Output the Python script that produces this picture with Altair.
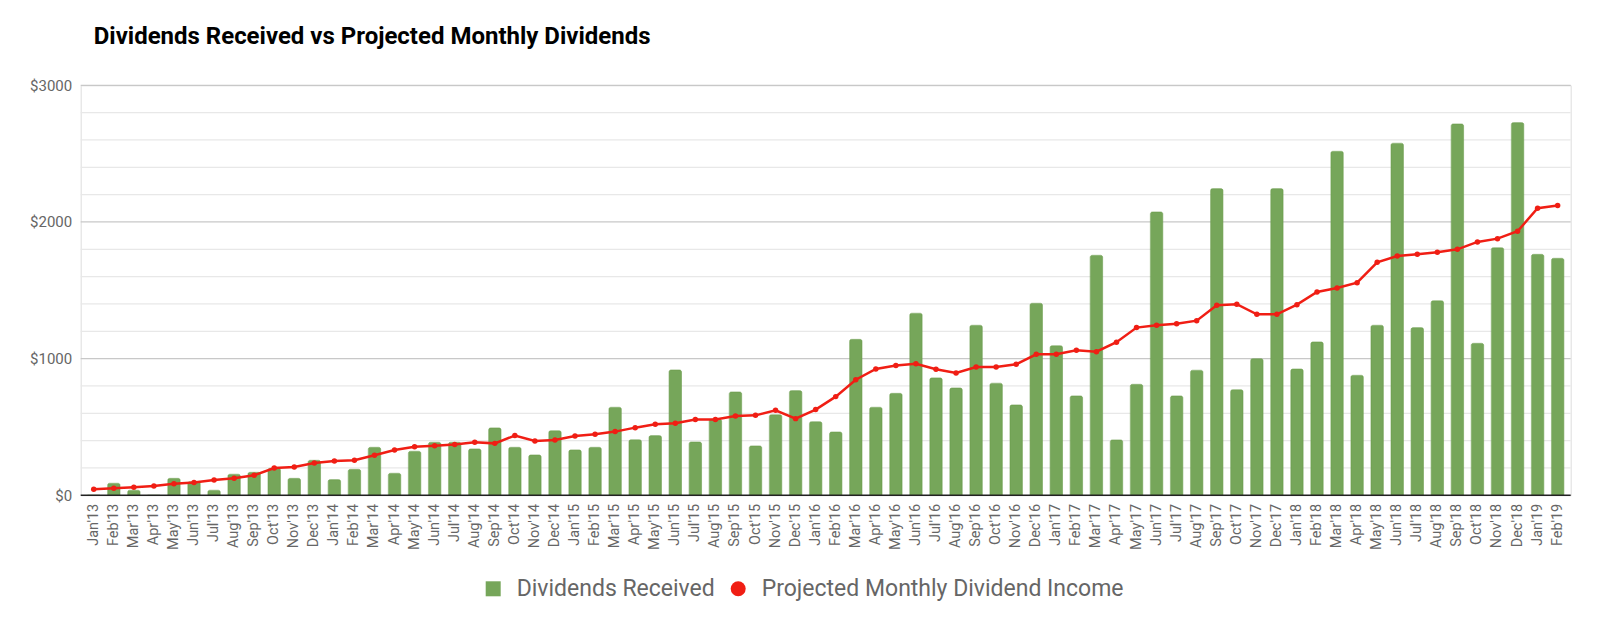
import altair as alt
import pandas as pd

months = [
    "Jan'13", "Feb'13", "Mar'13", "Apr'13", "May'13", "Jun'13", "Jul'13", "Aug'13", "Sep'13", "Oct'13", "Nov'13", "Dec'13",
    "Jan'14", "Feb'14", "Mar'14", "Apr'14", "May'14", "Jun'14", "Jul'14", "Aug'14", "Sep'14", "Oct'14", "Nov'14", "Dec'14",
    "Jan'15", "Feb'15", "Mar'15", "Apr'15", "May'15", "Jun'15", "Jul'15", "Aug'15", "Sep'15", "Oct'15", "Nov'15", "Dec'15",
    "Jan'16", "Feb'16", "Mar'16", "Apr'16", "May'16", "Jun'16", "Jul'16", "Aug'16", "Sep'16", "Oct'16", "Nov'16", "Dec'16",
    "Jan'17", "Feb'17", "Mar'17", "Apr'17", "May'17", "Jun'17", "Jul'17", "Aug'17", "Sep'17", "Oct'17", "Nov'17", "Dec'17",
    "Jan'18", "Feb'18", "Mar'18", "Apr'18", "May'18", "Jun'18", "Jul'18", "Aug'18", "Sep'18", "Oct'18", "Nov'18", "Dec'18",
    "Jan'19", "Feb'19",
]

received = [
    0, 88, 37, 0, 124, 100, 37, 154, 168, 198, 124, 256,
    115, 190, 351, 161, 322, 388, 388, 339, 493, 351, 295, 473,
    332, 351, 644, 407, 437, 917, 390, 556, 756, 361, 590, 766,
    539, 463, 1141, 644, 746, 1332, 859, 785, 1244, 820, 661, 1405,
    1095, 727, 1756, 405, 812, 2073, 727, 915, 2244, 773, 1000, 2244,
    924, 1122, 2517, 878, 1244, 2576, 1227, 1424, 2717, 1112, 1812, 2727,
    1763, 1734,
]

projected = [
    44, 51, 59, 68, 85, 93, 112, 124, 146, 200, 207, 237,
    251, 256, 293, 332, 356, 363, 371, 388, 380, 437, 398, 405,
    434, 446, 466, 495, 520, 527, 554, 554, 580, 585, 622, 561,
    627, 722, 846, 924, 949, 963, 922, 895, 939, 939, 959, 1032,
    1032, 1061, 1051, 1120, 1227, 1244, 1256, 1278, 1390, 1398, 1324, 1324,
    1395, 1488, 1517, 1556, 1705, 1751, 1763, 1778, 1800, 1854, 1878, 1932,
    2100, 2120,
]

minor_grid = [200, 400, 600, 800, 1200, 1400, 1600, 1800, 2200, 2400, 2600, 2800]
major_grid = [1000, 2000, 3000]
y_labels = [0, 1000, 2000, 3000]

series_bar = "Dividends Received"
series_line = "Projected Monthly Dividend Income"
green = "#76a65a"
red = "#f01e14"
grey_text = "#666666"

df = pd.DataFrame({
    "month": months,
    "received": received,
    "projected": projected,
    "s_bar": series_bar,
    "s_line": series_line,
})

y_scale = alt.Scale(domain=[0, 3000], nice=False)
x_scale = alt.Scale(paddingInner=0.38, paddingOuter=0.34)

x_axis = alt.Axis(
    labelAngle=270,
    labelFont="Roboto",
    labelFontSize=14.5,
    labelColor=grey_text,
    labelPadding=8,
    ticks=False,
    domain=False,
    grid=False,
    labelOverlap=False,
    title=None,
)

y_axis = alt.Axis(
    values=y_labels,
    labelExpr="'$' + datum.value",
    labelFont="Roboto",
    labelFontSize=15,
    labelColor=grey_text,
    labelPadding=9,
    labelOverlap=False,
    ticks=False,
    domain=False,
    grid=False,
    title=None,
)

legend_common = dict(
    title=None,
    orient="none",
    legendY=492,
    symbolSize=225,
    symbolStrokeWidth=0,
    labelFont="Roboto",
    labelFontSize=23,
    labelColor=grey_text,
    labelOffset=12,
    labelLimit=600,
    padding=0,
)

minor = alt.Chart(pd.DataFrame({"v": minor_grid})).mark_rule(
    color="#e8e8e8", strokeWidth=1.2
).encode(y=alt.Y("v:Q", scale=y_scale, axis=y_axis))

major = alt.Chart(pd.DataFrame({"v": major_grid})).mark_rule(
    color="#c8c8c8", strokeWidth=1.2
).encode(y=alt.Y("v:Q", scale=y_scale, axis=y_axis))

bars = alt.Chart(df).mark_bar(
    cornerRadiusTopLeft=2, cornerRadiusTopRight=2, stroke="#6e9f51", strokeWidth=0.6
).encode(
    x=alt.X("month:O", sort=months, scale=x_scale, axis=x_axis),
    y=alt.Y("received:Q", scale=y_scale, axis=y_axis),
    color=alt.Color(
        "s_bar:N",
        scale=alt.Scale(domain=[series_bar], range=[green]),
        legend=alt.Legend(legendX=401, symbolType="square", **legend_common),
    ),
)

line = alt.Chart(df).mark_line(color=red, strokeWidth=2.5).encode(
    x=alt.X("month:O", sort=months, scale=x_scale, axis=x_axis),
    y=alt.Y("projected:Q", scale=y_scale, axis=y_axis),
)

points = alt.Chart(df).mark_point(filled=True, size=30, opacity=1).encode(
    x=alt.X("month:O", sort=months, scale=x_scale, axis=x_axis),
    y=alt.Y("projected:Q", scale=y_scale, axis=y_axis),
    fill=alt.Fill(
        "s_line:N",
        scale=alt.Scale(domain=[series_line], range=[red]),
        legend=alt.Legend(legendX=646, symbolType="circle", **legend_common),
    ),
)

baseline = alt.Chart(pd.DataFrame({"v": [0]})).mark_rule(
    color="#222222", strokeWidth=1.6
).encode(y=alt.Y("v:Q", scale=y_scale, axis=y_axis))

chart = alt.layer(minor, major, bars, line, points, baseline).properties(
    width=1490,
    height=410,
    title=alt.TitleParams(
        text="Dividends Received vs Projected Monthly Dividends",
        font="Roboto",
        fontSize=24,
        fontWeight="bold",
        color="#000000",
        anchor="start",
        frame="group",
        dx=13,
        offset=10,
        baseline="alphabetic",
    ),
    autosize=alt.AutoSizeParams(type="none"),
    padding={"left": 72.7, "top": 77.3, "right": 12, "bottom": 120},
).configure_view(stroke=None).configure(font="Roboto")

chart.save("out.html", embed_options={"renderer": "svg", "actions": False})
